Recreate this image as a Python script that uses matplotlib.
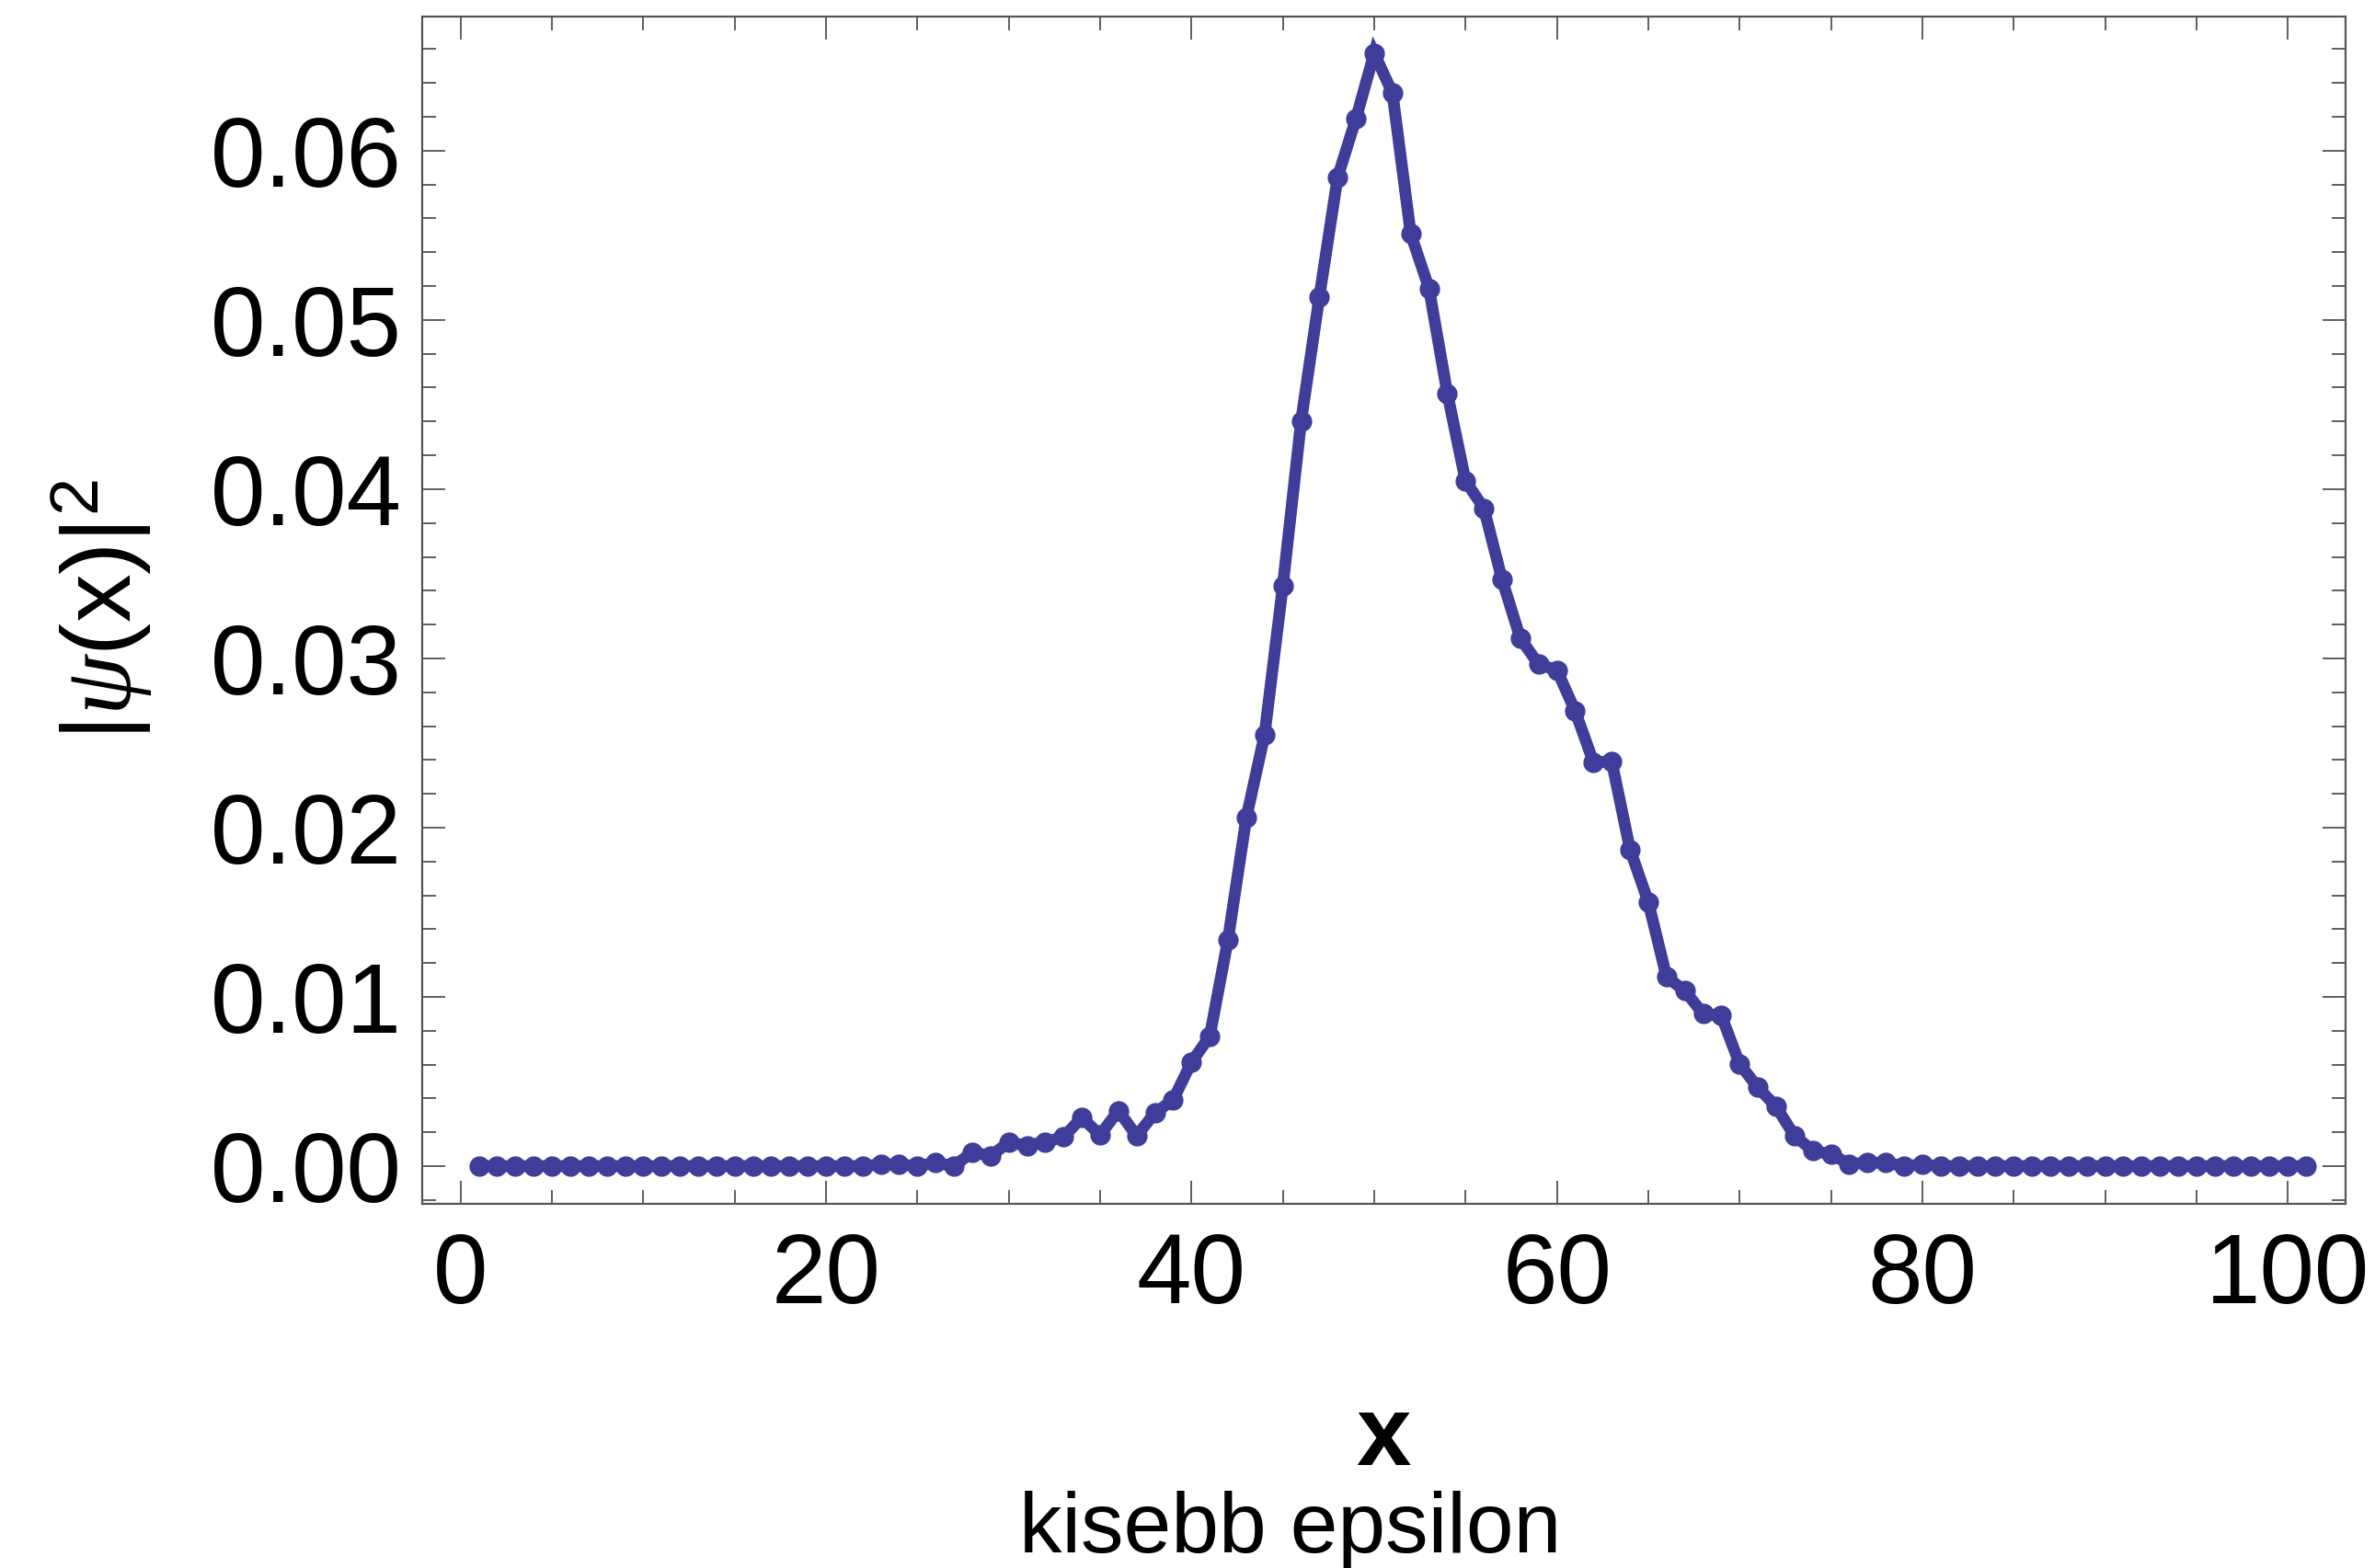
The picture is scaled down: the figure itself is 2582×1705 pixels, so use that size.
import numpy as np
import matplotlib
matplotlib.use("Agg")
import matplotlib.pyplot as plt
from matplotlib.ticker import MultipleLocator

# ---- data ----
x_vals = list(range(1, 102))
prob = [
    # 1-19
    0, 0, 0, 0, 0, 0, 0, 0, 0, 0, 0, 0, 0, 0, 0, 0, 0, 0, 0,
    # 20-29
    0.0, 0.0, 0.0, 0.0001, 0.0001, 0.0, 0.0002, 0.0, 0.00083, 0.0006,
    # 30-39
    0.0014, 0.00122, 0.00143, 0.00172, 0.00287, 0.00184, 0.00328, 0.00179, 0.00314, 0.00392,
    # 40-49
    0.00614, 0.00767, 0.01339, 0.02057, 0.02549, 0.03429, 0.04402, 0.05137, 0.05843, 0.06188,
    # 50-59
    0.06576, 0.06341, 0.05508, 0.05186, 0.04567, 0.04048, 0.03888, 0.03465, 0.03118, 0.02965,
    # 60-69
    0.02931, 0.02689, 0.02386, 0.02391, 0.01872, 0.01561, 0.01117, 0.01037, 0.0090, 0.00889,
    # 70-79
    0.00603, 0.00465, 0.00351, 0.00179, 0.00092, 0.0007, 0.00013, 0.0002, 0.0002, 0.0,
    # 80-89
    0.0001, 0, 0, 0, 0, 0, 0, 0, 0, 0,
    # 90-101
    0, 0, 0, 0, 0, 0, 0, 0, 0, 0, 0, 0,
]
x_ticks = [0, 20, 40, 60, 80, 100]
y_ticks = [0.00, 0.01, 0.02, 0.03, 0.04, 0.05, 0.06]
y_tick_labels = ["0.00", "0.01", "0.02", "0.03", "0.04", "0.05", "0.06"]
ylabel_text = r"$|\psi(\mathrm{x})|^2$"
xlabel_text = "x"
caption_text = "kisebb epsilon"

plt.rcParams["mathtext.fontset"] = "custom"
plt.rcParams["mathtext.rm"] = "Liberation Sans"
plt.rcParams["mathtext.it"] = "Liberation Serif:italic"
plt.rcParams["mathtext.bf"] = "Liberation Sans:bold"

W, H = 2582, 1705
fig = plt.figure(figsize=(W / 100, H / 100), dpi=100)
ax = fig.add_axes([459 / W, 1 - 1308.7 / H, (2550 - 459) / W, (1308.7 - 17.9) / H])

color = "#3E3D99"
ax.plot(x_vals, prob, color=color, lw=9.2, marker="o", ms=15,
        mec=color, mfc=color, solid_joinstyle="miter", zorder=3)

ax.set_xlim(-2.1, 103.16)
ax.set_ylim(-0.00221, 0.06793)

ax.set_xticks(x_ticks)
ax.set_xticklabels([str(t) for t in x_ticks])
ax.set_yticks(y_ticks)
ax.set_yticklabels(y_tick_labels)
ax.xaxis.set_minor_locator(MultipleLocator(5))
ax.yaxis.set_minor_locator(MultipleLocator(0.002))

frame_col = "#555555"
for s in ax.spines.values():
    s.set_color(frame_col)
    s.set_linewidth(1.6)

ax.tick_params(which="both", direction="in", top=True, right=True,
               color="#333333", width=1.1)
ax.tick_params(which="major", length=18)
ax.tick_params(which="minor", length=10.5)
ax.tick_params(axis="y", which="major", pad=16)
ax.tick_params(axis="x", which="major", pad=22)

for lab in ax.get_xticklabels() + ax.get_yticklabels():
    lab.set_family("Liberation Sans")
    lab.set_fontsize(77)
    lab.set_color("black")

fig.text(0.043, (1 - 663 / H), ylabel_text, rotation=90, ha="center",
         va="center", fontsize=76)
fig.text(1504 / W, 1 - 1593 / H, xlabel_text, ha="center", va="baseline",
         fontsize=77, family="Liberation Sans", fontweight="bold")
fig.text(1403 / W, 1 - 1688 / H, caption_text, ha="center", va="baseline",
         fontsize=67, family="Liberation Sans")

fig.savefig("out.png", dpi=100, facecolor="white")
